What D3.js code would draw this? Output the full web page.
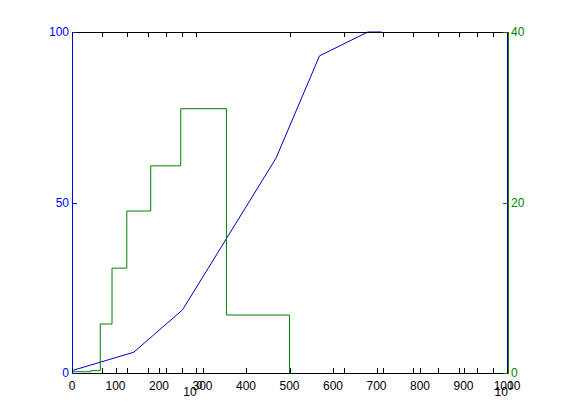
<!DOCTYPE html>
<html><head><meta charset="utf-8">
<script src="https://cdn.jsdelivr.net/npm/d3@7"></script>
<style>
html,body{margin:0;padding:0;background:#fff;}
svg{display:block;font-family:"Liberation Sans",Arial,Helvetica,sans-serif;}
</style></head>
<body>
<svg id="chart" width="561" height="420"></svg>
<script>
// ---- data ----
const xTicks = [0,100,200,300,400,500,600,700,800,900,1000];
const leftTicks = [0,50,100];
const rightTicks = [0,20,40];
const cumX = [0,142,254,469,569,680,712];
const cumY = [0.7,6.1,18.5,63,93,100,100];
const binEdges = [0,43,65,92,126,181,250,355,500];
const binCounts = [0.15,0.27,5.75,12.3,19.0,24.3,31.0,6.8];
const logTicks = [0.4,0.5,0.6,0.7,0.8,0.9,1,2,3,4,5,6,7,8,9,10];
const logLabelVals = [1,10];
const logLabelExps = ["0","1"];

// ---- layout ----
const L=72, R=507, T=32, B=373;
const BLUE="#0000ff", GREEN="#008000", LINEBLUE="#0000c8";
const svg=d3.select("#chart");
const x=d3.scaleLinear().domain([0,1000]).range([L,R]);
const xl=d3.scaleLog().domain([0.4,10]).range([L,R]);
const yL=d3.scaleLinear().domain([0,100]).range([B,T]);
const yR=d3.scaleLinear().domain([0,40]).range([B,T]);

// blue cumulative line
svg.append("path")
  .datum(cumX.map((v,i)=>[v,cumY[i]]))
  .attr("fill","none").attr("stroke",LINEBLUE).attr("stroke-width",1)
  .attr("d",d3.line().x(d=>x(d[0])).y(d=>yL(d[1])));

// green histogram stairs
const steps=[];
binCounts.forEach((c,i)=>{steps.push([binEdges[i],c]);steps.push([binEdges[i+1],c]);});
steps.push([binEdges[binEdges.length-1],0]);
svg.append("path")
  .datum(steps)
  .attr("fill","none").attr("stroke",GREEN).attr("stroke-width",1)
  .attr("d",d3.line().x(d=>x(d[0])).y(d=>yR(d[1])));

// axes group
const g=svg.append("g").attr("shape-rendering","crispEdges");
g.append("line").attr("x1",L).attr("x2",R+1).attr("y1",B+0.5).attr("y2",B+0.5).attr("stroke","#000");
g.append("line").attr("x1",L).attr("x2",R+1).attr("y1",T+0.5).attr("y2",T+0.5).attr("stroke","#000");
g.append("line").attr("x1",L+0.5).attr("x2",L+0.5).attr("y1",T).attr("y2",B+1).attr("stroke",BLUE);
g.append("line").attr("x1",R+0.5).attr("x2",R+0.5).attr("y1",T).attr("y2",B+1).attr("stroke",LINEBLUE);
g.append("line").attr("x1",R+1.5).attr("x2",R+1.5).attr("y1",T).attr("y2",B+1).attr("stroke",GREEN);

// linear bottom ticks
xTicks.forEach(v=>{
  g.append("line").attr("x1",Math.round(x(v))+0.5).attr("x2",Math.round(x(v))+0.5)
    .attr("y1",B).attr("y2",B-5).attr("stroke","#000");
  svg.append("text").attr("x",x(v)).attr("y",389.5).attr("text-anchor","middle")
    .attr("font-size",12).attr("fill","#000").text(v);
});
// log ticks bottom & top
logTicks.forEach(v=>{
  const px=Math.round(xl(v))+0.5;
  g.append("line").attr("x1",px).attr("x2",px).attr("y1",B).attr("y2",B-5).attr("stroke","#000");
  g.append("line").attr("x1",px).attr("x2",px).attr("y1",T).attr("y2",T+5).attr("stroke","#000");
});
// log labels 10^n (overlapping the linear labels, as in the original)
logLabelVals.forEach((v,i)=>{
  const t=svg.append("text").attr("x",xl(v)-3).attr("y",396).attr("text-anchor","middle")
    .attr("font-size",12).attr("fill","#000");
  t.append("tspan").text("10");
  t.append("tspan").attr("dy",-7).attr("font-size",10).text(logLabelExps[i]);
});

// left ticks and labels
leftTicks.forEach(v=>{
  g.append("line").attr("x1",L).attr("x2",L+5).attr("y1",Math.round(yL(v))+0.5).attr("y2",Math.round(yL(v))+0.5).attr("stroke",BLUE);
  svg.append("text").attr("x",L-3).attr("y",yL(v)).attr("dy","0.35em").attr("text-anchor","end")
    .attr("font-size",12).attr("fill",BLUE).text(v);
});
// right ticks and labels
rightTicks.forEach(v=>{
  g.append("line").attr("x1",R-4).attr("x2",R+1).attr("y1",Math.round(yR(v))+0.5).attr("y2",Math.round(yR(v))+0.5).attr("stroke",GREEN);
  svg.append("text").attr("x",R+4).attr("y",yR(v)).attr("dy","0.35em").attr("text-anchor","start")
    .attr("font-size",12).attr("fill",GREEN).text(v);
});
</script>
</body></html>
